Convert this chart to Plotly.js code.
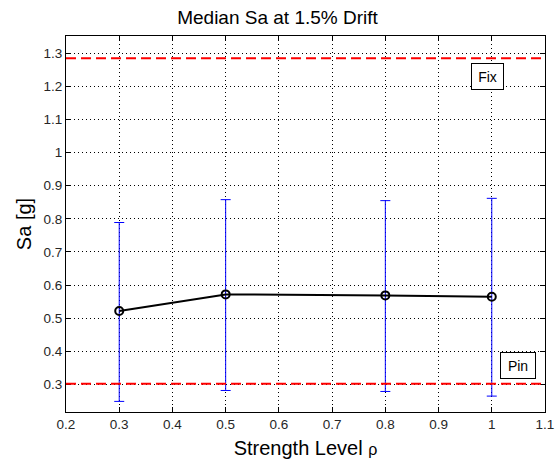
<!DOCTYPE html>
<html><head><meta charset="utf-8">
<script src="https://cdn.plot.ly/plotly-3.0.1.min.js"></script>
<style>html,body{margin:0;padding:0;background:#fff}#chart{width:555px;height:463px}</style>
</head><body><div id="chart"></div>
<script>
const strength = [0.3, 0.5, 0.8, 1.0];
const medianSa = [0.522, 0.572, 0.569, 0.565];
const upperSa = [0.789, 0.858, 0.855, 0.862];
const lowerSa = [0.249, 0.282, 0.279, 0.265];
const fixSa = 1.285;
const pinSa = 0.302;
const refLabels = ["Fix", "Pin"];

const errPlus = medianSa.map((m, i) => upperSa[i] - m);
const errMinus = medianSa.map((m, i) => m - lowerSa[i]);

const font = "Liberation Sans, Arial, Helvetica, sans-serif";
const traces = [
  {x: strength, y: medianSa, type: 'scatter', mode: 'markers',
   marker: {size: 1, color: 'rgba(0,0,0,0)'},
   error_y: {type: 'data', symmetric: false, array: errPlus, arrayminus: errMinus,
             color: '#0000ff', thickness: 1, width: 5},
   hoverinfo: 'skip', showlegend: false},
  {x: strength, y: medianSa, type: 'scatter', mode: 'lines+markers',
   line: {color: '#000', width: 2},
   marker: {symbol: 'circle-open', size: 8, color: '#000', line: {width: 2, color: '#000'}},
   showlegend: false}
];

const axisCommon = {
  showline: true, linecolor: '#000', linewidth: 1, mirror: 'ticks',
  ticks: 'inside', ticklen: 5, tickcolor: '#000',
  showgrid: true, gridcolor: '#000', gridwidth: 1, griddash: '1px,3px',
  zeroline: false, tickfont: {family: font, size: 13.5, color: '#262626'}
};

const layout = {
  width: 555, height: 463,
  margin: {l: 66, r: 10, t: 36, b: 51},
  paper_bgcolor: '#fff', plot_bgcolor: '#fff',
  title: {text: 'Median Sa at 1.5% Drift', font: {family: font, size: 19, color: '#000'},
          x: 0.5, xanchor: 'center', y: 0.963, yanchor: 'middle'},
  xaxis: Object.assign({}, axisCommon, {range: [0.2, 1.1], dtick: 0.1, tick0: 0.2,
          tickformat: '.1~f',
          title: {text: 'Strength Level <span style="font-size:16px">ρ</span>',
                  font: {family: font, size: 20, color: '#000'}, standoff: 9}}),
  yaxis: Object.assign({}, axisCommon, {range: [0.217, 1.352], dtick: 0.1, tick0: 0.2,
          tickformat: '.1~f',
          title: {text: 'Sa [g]', font: {family: font, size: 20, color: '#000'}, standoff: 6}}),
  shapes: [
    {type: 'line', xref: 'paper', x0: 0, x1: 1, yref: 'y', y0: fixSa, y1: fixSa,
     line: {color: '#ff0000', width: 2, dash: '10px,5px'}},
    {type: 'line', xref: 'paper', x0: 0, x1: 1, yref: 'y', y0: pinSa, y1: pinSa,
     line: {color: '#ff0000', width: 2, dash: '10px,5px'}}
  ],
  annotations: [
    {x: 0.992, y: 1.231, xref: 'x', yref: 'y', text: refLabels[0], showarrow: false,
     font: {family: font, size: 14, color: '#000'}, bordercolor: '#000', borderwidth: 1,
     borderpad: 1, width: 29, height: 23, bgcolor: '#fff'},
    {x: 1.05, y: 0.357, xref: 'x', yref: 'y', text: refLabels[1], showarrow: false,
     font: {family: font, size: 14, color: '#000'}, bordercolor: '#000', borderwidth: 1,
     borderpad: 1, width: 32, height: 23, bgcolor: '#fff'}
  ]
};
Plotly.newPlot('chart', traces, layout, {displayModeBar: false, staticPlot: true});
</script></body></html>
